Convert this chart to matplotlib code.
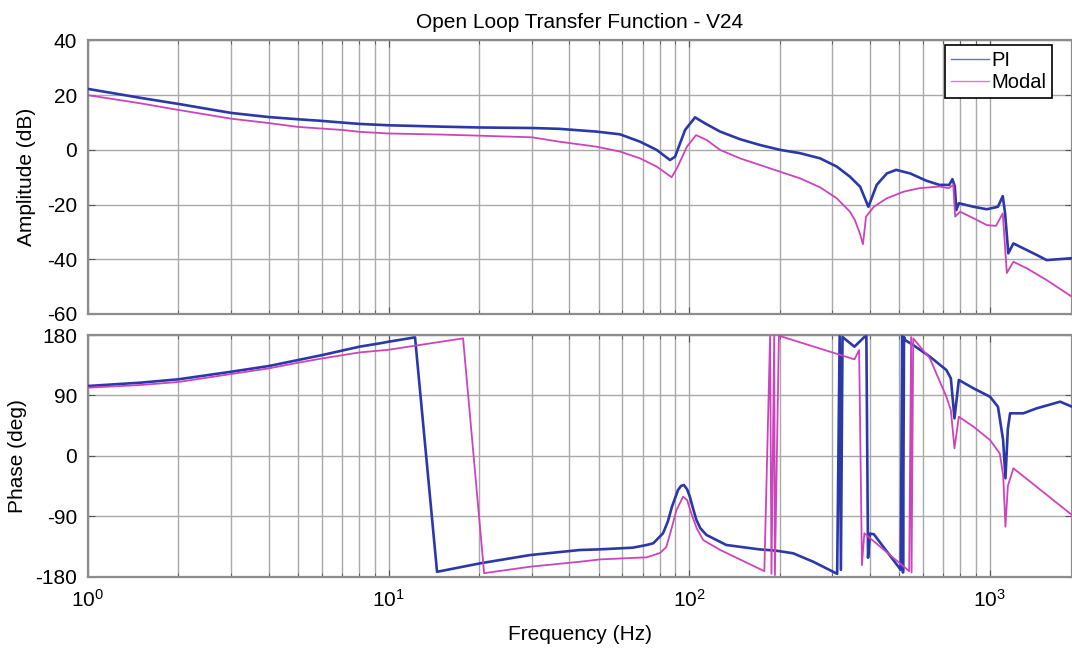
import matplotlib
matplotlib.use("Agg")
import matplotlib.pyplot as plt
import numpy as np

plt.rcParams['font.family'] = ['Liberation Sans', 'DejaVu Sans']
plt.rcParams['mathtext.fontset'] = 'custom'
plt.rcParams['mathtext.rm'] = 'Liberation Sans'
plt.rcParams['mathtext.it'] = 'Liberation Sans'
plt.rcParams['axes.unicode_minus'] = False

title = "Open Loop Transfer Function - V24"
series_names = ["PI", "Modal"]

# ---- Amplitude (dB) ----
pi_amp_f = [1, 1.5, 2, 3, 4, 5, 6, 7, 8, 10, 15, 20, 30, 37, 49, 58.9, 68.7, 78, 86.4, 89.8, 97,
            104.7, 113, 126.8, 147.8, 172, 201, 234, 273, 310, 343, 371, 395, 421, 455, 489, 544,
            617, 681, 734, 752, 766, 775, 790, 884, 979, 1066, 1106, 1126, 1154, 1200, 1295, 1434,
            1548, 1880]
pi_amp_db = [22.3, 19.0, 16.8, 13.5, 12.0, 11.2, 10.6, 10.0, 9.5, 9.0, 8.5, 8.2, 8.0, 7.7, 6.7, 5.7,
             3.0, 0.0, -3.7, -2.5, 7.3, 11.9, 9.7, 6.7, 3.9, 1.8, 0.0, -1.2, -3.1, -6.1, -9.8, -13.5,
             -20.8, -12.8, -8.6, -7.3, -8.6, -11.3, -12.8, -12.8, -10.7, -13.4, -22.0, -19.5, -20.8,
             -21.7, -20.8, -16.9, -23.2, -37.8, -34.2, -36.0, -38.4, -40.3, -39.6]

modal_amp_f = [1, 1.5, 2, 3, 4, 5, 6, 7, 8, 10, 15, 20, 30, 37, 49, 58.9, 68.7, 78, 87.5, 91.7, 98.4,
               105.5, 114.5, 126.8, 147.8, 172, 201, 234, 273, 310, 343, 356, 370, 379, 388, 412,
               455, 517, 584, 681, 731, 757, 768, 798, 884, 979, 1050, 1106, 1141, 1200, 1330, 1548,
               1880]
modal_amp_db = [20.0, 17.0, 14.6, 11.4, 9.8, 8.4, 7.8, 7.3, 6.6, 6.0, 5.6, 5.2, 4.6, 3.0, 1.2, -0.6,
                -3.1, -6.1, -10.0, -6.1, 1.2, 5.4, 3.6, 0.0, -3.1, -5.5, -8.0, -10.4, -13.7, -17.7,
                -22.6, -25.6, -30.5, -34.5, -24.4, -20.8, -17.7, -15.3, -14.0, -13.4, -14.0, -12.8,
                -24.4, -22.6, -25.0, -27.5, -27.8, -23.2, -45.0, -40.9, -43.3, -47.6, -53.7]

# ---- Phase (deg) ----
pi_ph_f = [1, 1.5, 2, 3, 4, 5, 6, 8, 9.36, 10, 12.25, 14.5, 20.2, 29.6, 43.3, 50.6, 65, 72.3, 76,
           81.9, 85, 87.7, 91.9, 94, 96.1, 98.5, 100.6, 103, 105.8, 109, 114.2, 133, 171, 195, 222,
           259, 311, 317, 320, 324, 355, 383, 389, 394, 400, 412, 506, 512, 515, 519, 525, 557,
           633, 718, 743, 764, 790, 884, 1003, 1066, 1109, 1129, 1150, 1170, 1295, 1434, 1717,
           1880]
pi_ph_deg = [104, 109, 114, 125.3, 133.8, 142.7, 150, 162.6, 167.6, 170, 176.5, -173, -160.3, -148,
             -140.5, -139.5, -137, -133, -130.5, -115.6, -98, -76, -51, -45, -43.6, -50, -61, -78,
             -95.8, -108, -118, -133, -139.5, -141.5, -145.4, -158, -176, 178, -170, 177, 162.6,
             177, 178, -152, -116, -117, -170, 178, -174, 177, 172, 165, 147.7, 127.8, 115.4, 55.8,
             113, 100.5, 88, 73.1, 23.5, -33.6, 40, 63.3, 63.3, 70.7, 80.6, 73.1]

modal_ph_f = [1, 1.5, 2, 3, 4, 5, 6, 8, 10, 17.7, 20.8, 29.6, 43.3, 50.6, 72.3, 80, 84, 87, 90.8,
              95.5, 98.5, 101.7, 106, 111.4, 127, 178, 186, 188, 192, 193, 199, 355, 368, 376, 383,
              540, 548, 550, 557, 633, 718, 743, 764, 790, 884, 1003, 1081, 1110, 1129, 1150, 1200,
              1880]
modal_ph_deg = [101.5, 105.5, 110, 121.9, 130.3, 138.7, 145, 154, 158, 175, -175, -165.4, -158,
                -154.5, -151.4, -145, -136, -112, -81, -61, -66, -85.8, -108, -125.6, -140.5, -172,
                178, -176, 179, -178, 179, 143.7, 157.6, -163, -115.6, -172, 177, -174, 175, 145, 88,
                68, 11, 58.2, 43.3, 23.5, 3.6, -30, -105.8, -45, -18.7, -88.3]

blue = '#2b38a8'
magenta = '#cc44bc'
grid_c = '#a9a9a9'
spine_c = '#8c8c8c'

fig = plt.figure(figsize=(10.72, 6.49), dpi=100)
ax1 = fig.add_axes([0.0821, 0.5162, 0.9179, 0.4214])
ax2 = fig.add_axes([0.0821, 0.1117, 0.9179, 0.3721], sharex=ax1)

ax1.plot(pi_amp_f, pi_amp_db, color=blue, lw=1.9, label=series_names[0], zorder=3)
ax1.plot(modal_amp_f, modal_amp_db, color=magenta, lw=1.3, label=series_names[1], zorder=3)
ax2.plot(pi_ph_f, pi_ph_deg, color=blue, lw=1.9, zorder=3)
ax2.plot(modal_ph_f, modal_ph_deg, color=magenta, lw=1.3, zorder=3)

for ax in (ax1, ax2):
    ax.set_xscale('log')
    ax.set_xlim(1, 1880)
    ax.grid(True, which='major', axis='both', color=grid_c, lw=1.0)
    ax.grid(True, which='minor', axis='x', color=grid_c, lw=1.0)
    for s in ax.spines.values():
        s.set_color(spine_c)
        s.set_linewidth(1.6)
    ax.tick_params(which='both', direction='in', color='#555555', labelsize=15,
                   top=True, right=True)
    ax.tick_params(which='major', length=5)
    ax.tick_params(which='minor', length=3)
    ax.tick_params(axis='y', pad=8)

ax1.set_ylim(-60, 40)
ax1.set_yticks([-60, -40, -20, 0, 20, 40])
ax2.set_ylim(-180, 180)
ax2.set_yticks([-180, -90, 0, 90, 180])
plt.setp(ax1.get_xticklabels(), visible=False)
ax2.tick_params(axis='x', pad=9)

ax1.set_ylabel("Amplitude (dB)", fontsize=15, labelpad=8)
ax2.set_ylabel("Phase (deg)", fontsize=15, labelpad=6)
ax2.set_xlabel("Frequency (Hz)", fontsize=15, labelpad=10)
ax1.set_title(title, fontsize=15, pad=9)

leg = ax1.legend(loc='upper left', bbox_to_anchor=(0.871, 0.985), fontsize=14.5, frameon=True,
                 fancybox=False, edgecolor='black', framealpha=1, borderaxespad=0,
                 handlelength=1.9, handletextpad=0.1, labelspacing=0.15, borderpad=0.3)
leg.get_frame().set_linewidth(1.2)
for l in leg.get_lines():
    l.set_linewidth(1.0)
    l.set_alpha(0.7)

fig.savefig("out.png", dpi=100)
